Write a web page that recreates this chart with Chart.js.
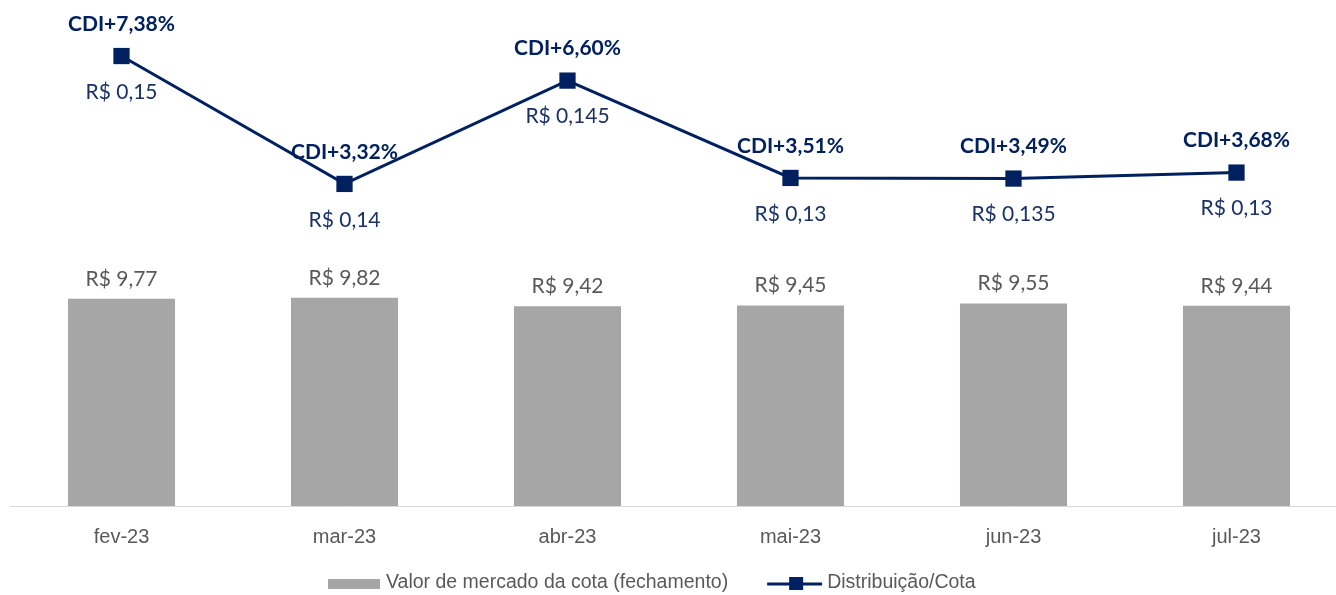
<!DOCTYPE html>
<html>
<head>
<meta charset="utf-8">
<script src="https://cdn.jsdelivr.net/npm/chart.js@4.4.0/dist/chart.umd.min.js"></script>
<style>
    html, body { margin: 0; padding: 0; background: #ffffff; overflow: hidden; }
    #wrap { position: relative; width: 1350px; height: 595px; }
</style>
</head>
<body>
<div id="wrap"><canvas id="ChartCanvas" width="1350" height="595"></canvas></div>
<script>
// Data
const months = ['fev-23', 'mar-23', 'abr-23', 'mai-23', 'jun-23', 'jul-23'];
const marketValue = [9.77, 9.82, 9.42, 9.45, 9.55, 9.44];          // bars, R$
const cdiSpread = [7.38, 3.32, 6.60, 3.51, 3.49, 3.68];            // line position, CDI + x%
const distribution = [0.15, 0.14, 0.145, 0.13, 0.135, 0.13];       // line labels, R$ per cota
const seriesNames = ['Valor de mercado da cota (fechamento)', 'Distribuição/Cota'];

const NAVY = '#002060';
const BAR_GRAY = '#a6a6a6';
const TEXT_GRAY = '#595959';
const LABEL_FONT = 'Lato, "Open Sans", sans-serif';
const AXIS_FONT = '"Liberation Sans", Arial, sans-serif';

function formatReal(v, digits)
{
    return 'R$ ' + v.toFixed(digits).replace('.', ',');
}

// Data labels: values over the bars, CDI spread above and distribution below each point
const labelPlugin =
{
    id: 'valueLabels',
    afterDatasetsDraw(chart)
    {
        const c = chart.ctx;
        c.save();
        c.textAlign = 'center';
        c.textBaseline = 'middle';

        const barMeta = chart.getDatasetMeta(1);
        c.fillStyle = TEXT_GRAY;
        c.font = '21px ' + LABEL_FONT;
        barMeta.data.forEach((bar, i) =>
        {
            c.fillText(formatReal(marketValue[i], 2), bar.x, bar.y - 20);
        });

        const lineMeta = chart.getDatasetMeta(0);
        lineMeta.data.forEach((pt, i) =>
        {
            c.fillStyle = NAVY;
            c.font = 'bold 21px ' + LABEL_FONT;
            c.fillText('CDI+' + cdiSpread[i].toFixed(2).replace('.', ',') + '%', pt.x, pt.y - 32);

            c.fillStyle = '#1a3266';
            c.font = '21px ' + LABEL_FONT;
            const decimals = String(distribution[i]).split('.')[1].length;
            c.fillText(formatReal(distribution[i], decimals), pt.x, pt.y + 36);
        });
        c.restore();
    }
};

// Legend drawn under the axis labels
const legendPlugin =
{
    id: 'bottomLegend',
    afterDraw(chart)
    {
        const c = chart.ctx;
        const y = 583;
        let x = 328;

        c.save();
        c.font = '19.5px ' + AXIS_FONT;
        c.textBaseline = 'middle';
        c.textAlign = 'left';

        // bar swatch
        c.fillStyle = BAR_GRAY;
        c.fillRect(x, y - 4, 52, 10);
        x += 58;
        c.fillStyle = TEXT_GRAY;
        c.fillText(seriesNames[0], x, y);
        x += c.measureText(seriesNames[0]).width + 39;

        // line with square marker
        c.strokeStyle = NAVY;
        c.lineWidth = 3;
        c.beginPath();
        c.moveTo(x, y + 1);
        c.lineTo(x + 55, y + 1);
        c.stroke();
        c.fillStyle = NAVY;
        c.fillRect(x + 22, y - 6, 14, 13);
        x += 60;
        c.fillStyle = TEXT_GRAY;
        c.fillText(seriesNames[1], x, y);
        c.restore();
    }
};

Initialize();

function Initialize()
{
    const ctx = document.getElementById('ChartCanvas').getContext('2d');

    new Chart(ctx,
    {
        data:
        {
            labels: months,
            datasets:
            [
                {
                    type: 'line',
                    label: seriesNames[1],
                    data: cdiSpread,
                    yAxisID: 'y1',
                    borderColor: NAVY,
                    backgroundColor: NAVY,
                    borderWidth: 3,
                    pointStyle: 'rect',
                    pointRadius: 11.5,
                    pointHoverRadius: 11.5,
                    pointBorderWidth: 0,
                    tension: 0,
                    clip: false,
                    order: 0
                },
                {
                    type: 'bar',
                    label: seriesNames[0],
                    data: marketValue,
                    yAxisID: 'y',
                    backgroundColor: BAR_GRAY,
                    categoryPercentage: 1,
                    barPercentage: 0.48,
                    order: 1
                }
            ]
        },
        options:
        {
            responsive: false,
            animation: false,
            layout: { autoPadding: false, padding: { left: 10, right: 2, top: 0, bottom: 0 } },
            plugins:
            {
                legend: { display: false },
                tooltip: { enabled: false }
            },
            scales:
            {
                x:
                {
                    grid: { display: false },
                    border: { display: true, color: '#d9d9d9', width: 1 },
                    ticks:
                    {
                        color: TEXT_GRAY,
                        padding: 11,
                        font: { family: AXIS_FONT, size: 20 }
                    },
                    afterFit: function(scale) { scale.height = 89; }
                },
                y:
                {
                    display: false,
                    min: 0,
                    max: 23.86
                },
                y1:
                {
                    display: false,
                    min: -6.905,
                    max: 9.159
                }
            }
        },
        plugins: [labelPlugin, legendPlugin]
    });
}
</script>
</body>
</html>
